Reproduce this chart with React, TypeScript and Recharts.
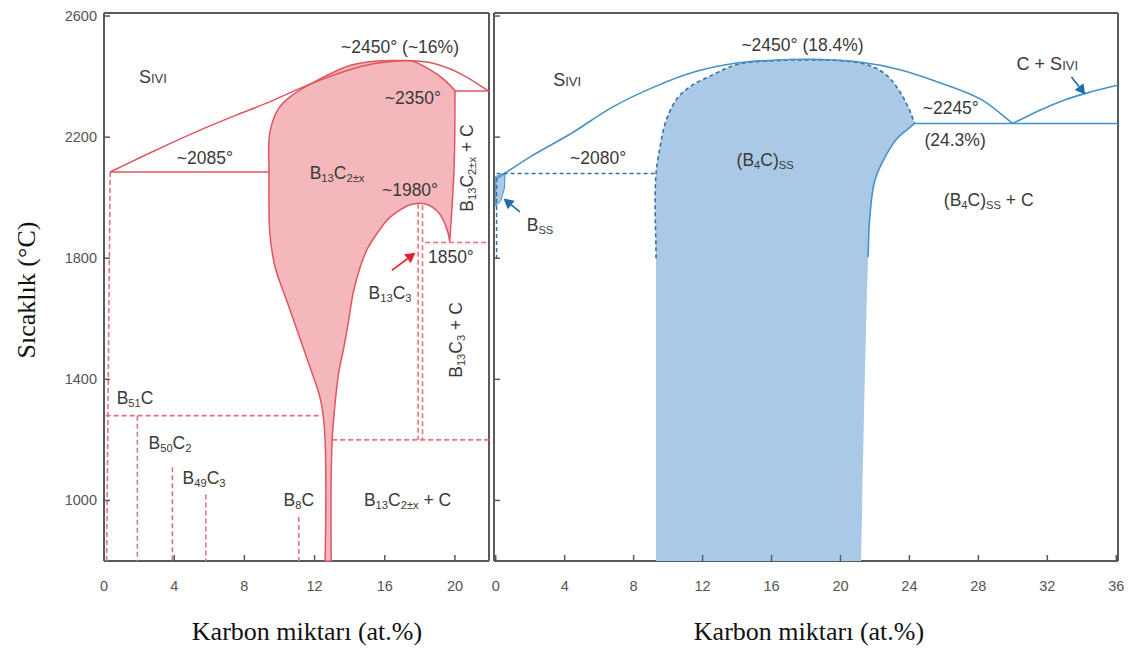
import React from 'react';
import { ScatterChart, Scatter, XAxis, YAxis } from 'recharts';

type Pt = { x: number; y: number };
type Note = { x: number; y: number; t: string };

// ---------- shared temperature axis ----------
const tempTicks = [1000, 1400, 1800, 2200, 2600];
const tempDomain: [number, number] = [800, 2610];

// ---------- left panel: B–C with B13C2±x ----------
const leftXTicks = [0, 4, 8, 12, 16, 20];
const leftXDomain: [number, number] = [0, 21.94];

const leftLiquidus: Pt[] = [
  { x: 0.35, y: 2085 }, { x: 2, y: 2131 }, { x: 4, y: 2185 }, { x: 5.5, y: 2224 },
  { x: 7.5, y: 2272 }, { x: 9.3, y: 2313 }, { x: 11.2, y: 2362 }, { x: 13.1, y: 2405 },
  { x: 15.0, y: 2438 }, { x: 16.9, y: 2452 }, { x: 17.6, y: 2452 }, { x: 18.8, y: 2443 },
  { x: 20.3, y: 2410 }, { x: 21.94, y: 2352 },
];
const leftLine2085: Pt[] = [{ x: 0.35, y: 2085 }, { x: 9.4, y: 2085 }];
const leftLine2350: Pt[] = [{ x: 20.0, y: 2352 }, { x: 21.94, y: 2352 }];

const b13c2Field: Pt[] = [
  { x: 12.6, y: 800 }, { x: 12.6, y: 1200 }, { x: 12.5, y: 1276 }, { x: 12.3, y: 1342 },
  { x: 11.8, y: 1430 }, { x: 11.0, y: 1563 }, { x: 10.4, y: 1662 }, { x: 9.75, y: 1771 },
  { x: 9.45, y: 1883 }, { x: 9.4, y: 2000 }, { x: 9.4, y: 2085 }, { x: 9.45, y: 2214 },
  { x: 9.9, y: 2290 }, { x: 10.6, y: 2333 }, { x: 12.2, y: 2389 }, { x: 14.1, y: 2438 },
  { x: 15.4, y: 2451 }, { x: 16.9, y: 2453 }, { x: 17.5, y: 2452 }, { x: 18.6, y: 2422 },
  { x: 19.4, y: 2389 }, { x: 20.0, y: 2353 }, { x: 19.95, y: 2100 }, { x: 19.7, y: 1855 },
  { x: 19.6, y: 1885 }, { x: 19.3, y: 1930 }, { x: 19.0, y: 1955 }, { x: 18.5, y: 1976 },
  { x: 18.0, y: 1982 }, { x: 17.4, y: 1976 }, { x: 16.9, y: 1960 }, { x: 16.2, y: 1930 },
  { x: 15.6, y: 1885 }, { x: 15.0, y: 1830 }, { x: 14.6, y: 1771 }, { x: 14.2, y: 1685 },
  { x: 13.9, y: 1580 }, { x: 13.65, y: 1500 }, { x: 13.4, y: 1431 }, { x: 13.2, y: 1340 },
  { x: 13.1, y: 1276 }, { x: 13.0, y: 1200 }, { x: 12.95, y: 800 },
];

const leftDashed: Pt[][] = [
  [{ x: 0.35, y: 2085 }, { x: 0.15, y: 800 }],
  [{ x: 0.1, y: 1280 }, { x: 12.45, y: 1280 }],
  [{ x: 1.9, y: 1280 }, { x: 1.9, y: 800 }],
  [{ x: 3.9, y: 1110 }, { x: 3.9, y: 800 }],
  [{ x: 5.8, y: 1020 }, { x: 5.8, y: 800 }],
  [{ x: 11.1, y: 945 }, { x: 11.1, y: 800 }],
  [{ x: 13.0, y: 1200 }, { x: 21.94, y: 1200 }],
  [{ x: 17.9, y: 1980 }, { x: 17.9, y: 1200 }],
  [{ x: 18.15, y: 1975 }, { x: 18.15, y: 1200 }],
  [{ x: 18.3, y: 1852 }, { x: 21.94, y: 1852 }],
];
const leftArrow: Pt[] = [{ x: 16.4, y: 1760 }, { x: 17.75, y: 1818 }];

const leftNotes: Note[] = [
  { x: 16.87, y: 2498, t: '~2450° (~16%)' },
  { x: 17.6, y: 2329, t: '~2350°' },
  { x: 5.75, y: 2131, t: '~2085°' },
  { x: 13.28, y: 2082, t: 'B_{13}C_{2±x}' },
  { x: 17.44, y: 2025, t: '~1980°' },
  { x: 19.77, y: 1804, t: '1850°' },
  { x: 16.3, y: 1685, t: 'B_{13}C_{3}' },
  { x: 1.77, y: 1339, t: 'B_{51}C' },
  { x: 3.76, y: 1190, t: 'B_{50}C_{2}' },
  { x: 5.7, y: 1074, t: 'B_{49}C_{3}' },
  { x: 11.1, y: 1002, t: 'B_{8}C' },
  { x: 17.3, y: 1002, t: 'B_{13}C_{2±x} + C' },
];
const leftNotesVertical: Note[] = [
  { x: 20.68, y: 2098, t: 'B_{13}C_{2±x} + C' },
  { x: 20.06, y: 1530, t: 'B_{13}C_{3} + C' },
];
const leftLiquidNote: Note[] = [{ x: 2.79, y: 2399, t: 'Sıvı' }];

// ---------- right panel: B–C with (B4C)ss ----------
const rightXTicks = [0, 4, 8, 12, 16, 20, 24, 28, 32, 36];
const rightXDomain: [number, number] = [-0.1, 36.1];

const rightLiquidus: Pt[] = [
  { x: 0.05, y: 2062 }, { x: 2.0, y: 2135 }, { x: 4.4, y: 2213 }, { x: 6.8, y: 2300 },
  { x: 9.2, y: 2366 }, { x: 11.5, y: 2415 }, { x: 13.9, y: 2444 }, { x: 16.3, y: 2455 },
  { x: 18.4, y: 2457 }, { x: 21.1, y: 2448 }, { x: 23.5, y: 2422 }, { x: 25.8, y: 2379 },
  { x: 28.2, y: 2323 }, { x: 30.0, y: 2245 },
];
const carbonLiquidus: Pt[] = [
  { x: 30.0, y: 2245 }, { x: 31.5, y: 2287 }, { x: 33.0, y: 2323 }, { x: 34.5, y: 2349 },
  { x: 36.1, y: 2372 },
];
const rightLine2245: Pt[] = [{ x: 24.3, y: 2245 }, { x: 36.1, y: 2245 }];

const b4cDashedEdge: Pt[] = [
  { x: 9.3, y: 1800 }, { x: 9.3, y: 2080 }, { x: 9.5, y: 2158 }, { x: 9.9, y: 2257 },
  { x: 10.6, y: 2333 }, { x: 11.5, y: 2375 }, { x: 12.3, y: 2398 }, { x: 14.0, y: 2440 },
  { x: 16.0, y: 2452 }, { x: 18.4, y: 2455 }, { x: 20.5, y: 2450 }, { x: 21.5, y: 2440 },
  { x: 22.3, y: 2420 }, { x: 22.8, y: 2398 }, { x: 23.5, y: 2345 }, { x: 24.0, y: 2290 },
  { x: 24.3, y: 2245 },
];
const b4cSolidEdge: Pt[] = [
  { x: 24.3, y: 2245 }, { x: 23.2, y: 2190 }, { x: 22.5, y: 2125 }, { x: 22.0, y: 2058 },
  { x: 21.7, y: 1936 }, { x: 21.6, y: 1804 },
];
const b4cField: Pt[] = [
  { x: 9.3, y: 800 }, ...b4cDashedEdge, ...b4cSolidEdge.slice(1), { x: 21.2, y: 800 },
];
const bssField: Pt[] = [
  { x: 0, y: 2070 }, { x: 0.55, y: 2082 }, { x: 0.5, y: 2030 }, { x: 0.3, y: 1990 }, { x: 0, y: 1972 },
];
const rightDashed: Pt[][] = [
  [{ x: 0.05, y: 2080 }, { x: 9.3, y: 2080 }],
  [{ x: 0.05, y: 2065 }, { x: 0.05, y: 1800 }],
];
const bssArrow: Pt[] = [{ x: 1.4, y: 1953 }, { x: 0.45, y: 1997 }];
const carbonArrow: Pt[] = [{ x: 33.4, y: 2399 }, { x: 34.2, y: 2341 }];

const rightNotes: Note[] = [
  { x: 17.8, y: 2504, t: '~2450° (18.4%)' },
  { x: 26.4, y: 2296, t: '~2245°' },
  { x: 26.65, y: 2191, t: '(24.3%)' },
  { x: 5.94, y: 2131, t: '~2080°' },
  { x: 15.63, y: 2125, t: '(B_{4}C)_{SS}' },
  { x: 28.6, y: 1992, t: '(B_{4}C)_{SS} + C' },
  { x: 2.57, y: 1910, t: 'B_{SS}' },
];
const rightLiquidNotes: Note[] = [
  { x: 4.14, y: 2389, t: 'Sıvı' },
  { x: 32.0, y: 2442, t: 'C + Sıvı' },
];

// ---------- styling ----------
const RED = '#df5560';
const PINK = '#f4b8bc';
const RED_DASH = '#e8727c';
const RED_ARROW = '#e5232f';
const BLUE = '#4691c5';
const BLUE_FILL = '#aac9e6';
const BLUE_DASH = '#3a6f9f';
const BLUE_ARROW = '#1d6ea6';
const FRAME = '#5a5a5a';
const NOTE_COLOR = '#3a3a3a';
const SANS = '"Liberation Sans", Arial, sans-serif';
const SERIF = '"Liberation Serif", "Times New Roman", serif';
const NOTE_SIZE = 17.5;

const axisLine = { stroke: FRAME, strokeWidth: 2 };

// ---------- path helpers ----------
type PathOpts = { stroke?: string; width?: number; dash?: string; fill?: string; smooth?: boolean; closed?: boolean };

function unit(x: number, y: number) {
  const l = Math.hypot(x, y) || 1;
  return { x: x / l, y: y / l };
}

function toPath(pts: { x: number; y: number }[], smooth: boolean, closed: boolean): string {
  const n = pts.length;
  if (n < 2) return '';
  const f = (v: number) => v.toFixed(2);
  if (!smooth || n < 3) {
    return pts.map((p, i) => `${i ? 'L' : 'M'}${f(p.x)},${f(p.y)}`).join('') + (closed ? 'Z' : '');
  }
  const get = (i: number) => pts[(i + n) % n];
  const dirs = pts.map((b, i) => {
    if (!closed && i === 0) return unit(pts[1].x - b.x, pts[1].y - b.y);
    if (!closed && i === n - 1) return unit(b.x - pts[n - 2].x, b.y - pts[n - 2].y);
    const a = get(i - 1);
    const c = get(i + 1);
    const u1 = unit(b.x - a.x, b.y - a.y);
    const u2 = unit(c.x - b.x, c.y - b.y);
    if (u1.x * u2.x + u1.y * u2.y < 0.8) return null; // sharp corner
    return unit(u1.x + u2.x, u1.y + u2.y);
  });
  let d = `M${f(pts[0].x)},${f(pts[0].y)}`;
  const segs = closed ? n : n - 1;
  for (let i = 0; i < segs; i++) {
    const b = get(i);
    const c = get(i + 1);
    const L = Math.hypot(c.x - b.x, c.y - b.y) / 3;
    const db = dirs[i];
    const dc = dirs[(i + 1) % n];
    const c1 = db ? { x: b.x + db.x * L, y: b.y + db.y * L } : b;
    const c2 = dc ? { x: c.x - dc.x * L, y: c.y - dc.y * L } : c;
    d += `C${f(c1.x)},${f(c1.y)} ${f(c2.x)},${f(c2.y)} ${f(c.x)},${f(c.y)}`;
  }
  return d + (closed ? 'Z' : '');
}

const pathLine = (o: PathOpts) => (props: any) => {
  const pts = (props.points || []).filter((p: any) => p && Number.isFinite(p.x) && Number.isFinite(p.y));
  return (
    <path
      d={toPath(pts, !!o.smooth, !!o.closed)}
      fill={o.fill || 'none'}
      stroke={o.stroke || 'none'}
      strokeWidth={o.width || 1}
      strokeDasharray={o.dash}
      strokeLinejoin="round"
    />
  );
};

const arrowLine = (color: string, width: number, head: number) => (props: any) => {
  const pts = props.points || [];
  if (pts.length < 2) return null;
  const a = pts[0];
  const b = pts[1];
  const ang = Math.atan2(b.y - a.y, b.x - a.x);
  const cs = Math.cos(ang);
  const sn = Math.sin(ang);
  const bx = b.x - head * cs;
  const by = b.y - head * sn;
  const w = head * 0.55;
  const tri = `${b.x},${b.y} ${bx - w * sn},${by + w * cs} ${bx + w * sn},${by - w * cs}`;
  return (
    <g>
      <line x1={a.x} y1={a.y} x2={bx} y2={by} stroke={color} strokeWidth={width} />
      <polygon points={tri} fill={color} />
    </g>
  );
};

const noDot = () => null;

function series(key: string, data: Pt[], o: PathOpts) {
  return (
    <Scatter
      key={key}
      name={key}
      data={data}
      isAnimationActive={false}
      shape={noDot}
      line={pathLine(o)}
      lineType="joint"
    />
  );
}

function arrow(key: string, data: Pt[], color: string) {
  return (
    <Scatter
      key={key}
      name={key}
      data={data}
      isAnimationActive={false}
      shape={noDot}
      line={arrowLine(color, 1.6, 10)}
      lineType="joint"
    />
  );
}

function richText(s: string, size: number) {
  const parts = s.split(/_\{([^}]*)\}/);
  const out: React.ReactNode[] = [];
  const shift = Math.round(size * 0.28);
  let down = false;
  parts.forEach((p, i) => {
    if (i % 2 === 1) {
      out.push(
        <tspan key={i} dy={down ? 0 : shift} fontSize={size * 0.64}>
          {p}
        </tspan>
      );
      down = true;
    } else if (p) {
      out.push(
        <tspan key={i} dy={down ? -shift : 0}>
          {p}
        </tspan>
      );
      down = false;
    }
  });
  return out;
}

function notes(key: string, data: Note[], opts: { vertical?: boolean; caps?: boolean; size?: number }) {
  const size = opts.size || NOTE_SIZE;
  const shape = (p: any) => {
    const cx = p.cx;
    const cy = p.cy;
    const t = p.payload ? p.payload.t : '';
    return (
      <text
        x={cx}
        y={cy}
        textAnchor="middle"
        dominantBaseline="central"
        fontFamily={SANS}
        fontSize={size}
        fill={NOTE_COLOR}
        style={opts.caps ? { fontVariant: 'small-caps' } : undefined}
        transform={opts.vertical ? `rotate(-90, ${cx}, ${cy})` : undefined}
      >
        {richText(t, size)}
      </text>
    );
  };
  return <Scatter key={key} name={key} data={data} isAnimationActive={false} shape={shape} />;
}

// inward tick marks, with optional labels outside the frame
const TICK_LEN = 6;
const makeTick = (side: 'bottom' | 'top' | 'left' | 'right', label: boolean) => (p: any) => {
  const x = p.x;
  const y = p.y;
  const v = p.payload ? p.payload.value : '';
  let line: React.ReactNode = null;
  let txt: React.ReactNode = null;
  if (side === 'bottom') {
    line = <line x1={x} y1={y} x2={x} y2={y - TICK_LEN} stroke={FRAME} strokeWidth={1.5} />;
    if (label)
      txt = (
        <text x={x} y={y + 30} textAnchor="middle" fontFamily={SANS} fontSize={14.5} fill="#555">
          {v}
        </text>
      );
  } else if (side === 'top') {
    line = <line x1={x} y1={y} x2={x} y2={y + TICK_LEN} stroke={FRAME} strokeWidth={1.5} />;
  } else if (side === 'left') {
    line = <line x1={x} y1={y} x2={x + TICK_LEN} y2={y} stroke={FRAME} strokeWidth={1.5} />;
    if (label)
      txt = (
        <text x={x - 7} y={y + 5} textAnchor="end" fontFamily={SANS} fontSize={14.5} fill="#555">
          {v}
        </text>
      );
  } else {
    line = <line x1={x} y1={y} x2={x - TICK_LEN} y2={y} stroke={FRAME} strokeWidth={1.5} />;
  }
  return (
    <g>
      {line}
      {txt}
    </g>
  );
};

function frameAxes(xDomain: [number, number], xTicks: number[], yLabels: boolean) {
  return [
    <XAxis
      key="xb"
      type="number"
      dataKey="x"
      domain={xDomain}
      ticks={xTicks}
      interval={0}
      height={30}
      tickSize={0}
      tickMargin={0}
      axisLine={axisLine}
      tickLine={false}
      tick={makeTick('bottom', true)}
    />,
    <XAxis
      key="xt"
      xAxisId="t"
      orientation="top"
      type="number"
      dataKey="x"
      domain={xDomain}
      ticks={xTicks}
      interval={0}
      height={1}
      tickSize={0}
      tickMargin={0}
      axisLine={axisLine}
      tickLine={false}
      tick={makeTick('top', false)}
    />,
    <YAxis
      key="yl"
      type="number"
      dataKey="y"
      domain={tempDomain}
      ticks={tempTicks}
      interval={0}
      width={yLabels ? 60 : 1}
      tickSize={0}
      tickMargin={0}
      axisLine={axisLine}
      tickLine={false}
      tick={makeTick('left', yLabels)}
    />,
    <YAxis
      key="yr"
      yAxisId="r"
      orientation="right"
      type="number"
      dataKey="y"
      domain={tempDomain}
      ticks={tempTicks}
      interval={0}
      width={1}
      tickSize={0}
      tickMargin={0}
      axisLine={axisLine}
      tickLine={false}
      tick={makeTick('right', false)}
    />,
  ];
}

export default function App() {
  return (
    <div
      style={{
        position: 'absolute',
        left: 0,
        top: 0,
        width: 1138,
        height: 648,
        background: '#ffffff',
        overflow: 'hidden',
      }}
    >
      <div style={{ position: 'absolute', left: 0, top: 0 }}>
        <ScatterChart width={495} height={600} margin={{ top: 12, right: 5, bottom: 9, left: 44 }}>
          {frameAxes(leftXDomain, leftXTicks, true)}
          {series('b13c2-field', b13c2Field, { fill: PINK, stroke: RED, width: 1.5, smooth: true, closed: true })}
          {series('liquidus', leftLiquidus, { stroke: RED, width: 1.5, smooth: true })}
          {series('eutectic-2085', leftLine2085, { stroke: RED, width: 1.5 })}
          {series('peritectic-2350', leftLine2350, { stroke: RED, width: 1.5 })}
          {leftDashed.map((d, i) => series(`dash-${i}`, d, { stroke: RED_DASH, width: 1.6, dash: '5 3' }))}
          {arrow('b13c3-arrow', leftArrow, RED_ARROW)}
          {notes('notes', leftNotes, {})}
          {notes('notes-v', leftNotesVertical, { vertical: true })}
          {notes('notes-liquid', leftLiquidNote, { caps: true, size: 18 })}
        </ScatterChart>
      </div>

      <div style={{ position: 'absolute', left: 490, top: 0 }}>
        <ScatterChart width={640} height={600} margin={{ top: 12, right: 11, bottom: 9, left: 3 }}>
          {frameAxes(rightXDomain, rightXTicks, false)}
          {series('b4c-field', b4cField, { fill: BLUE_FILL, smooth: true, closed: true })}
          {series('bss-field', bssField, { fill: BLUE_FILL, stroke: BLUE, width: 1, smooth: false, closed: true })}
          {series('b4c-dashed', b4cDashedEdge, { stroke: BLUE_DASH, width: 1.6, dash: '4 3', smooth: true })}
          {series('b4c-solid', b4cSolidEdge, { stroke: BLUE, width: 1.6, smooth: true })}
          {series('liquidus', rightLiquidus, { stroke: BLUE, width: 1.6, smooth: true })}
          {series('carbon-liquidus', carbonLiquidus, { stroke: BLUE, width: 1.6, smooth: true })}
          {series('eutectic-2245', rightLine2245, { stroke: BLUE, width: 1.6 })}
          {rightDashed.map((d, i) => series(`dash-${i}`, d, { stroke: BLUE_DASH, width: 1.5, dash: '4 3' }))}
          {arrow('bss-arrow', bssArrow, BLUE_ARROW)}
          {arrow('carbon-arrow', carbonArrow, BLUE_ARROW)}
          {notes('notes', rightNotes, {})}
          {notes('notes-liquid', rightLiquidNotes, { caps: true, size: 18 })}
        </ScatterChart>
      </div>

      <svg
        width={1138}
        height={648}
        style={{ position: 'absolute', left: 0, top: 0, pointerEvents: 'none' }}
      >
        <text x={307} y={640} textAnchor="middle" fontFamily={SERIF} fontSize={26} fill="#111">
          Karbon miktarı (at.%)
        </text>
        <text x={809} y={640} textAnchor="middle" fontFamily={SERIF} fontSize={26} fill="#111">
          Karbon miktarı (at.%)
        </text>
        <text
          transform="translate(35, 290) rotate(-90)"
          textAnchor="middle"
          fontFamily={SERIF}
          fontSize={26}
          fill="#111"
        >
          Sıcaklık (°C)
        </text>
      </svg>
    </div>
  );
}
